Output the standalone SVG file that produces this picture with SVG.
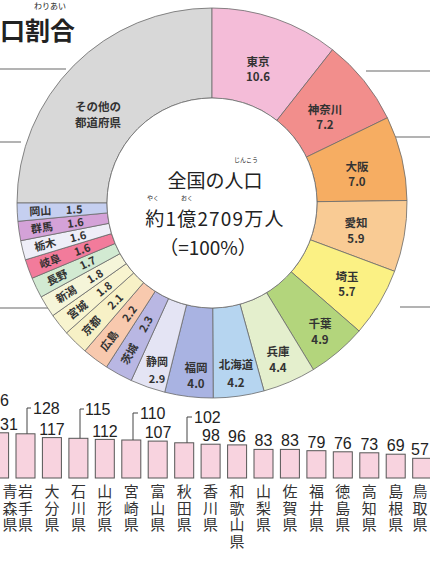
<svg xmlns="http://www.w3.org/2000/svg" width="430" height="564" viewBox="0 0 430 564">
<style>
.sl{stroke:#6a6a6a;stroke-width:0.8;stroke-linejoin:round}
.jp{font-family:"Noto Sans CJK JP","Noto Sans",sans-serif;fill:#222}
.lb{font-size:11.5px;text-anchor:middle;font-weight:bold;fill:#333}
.sm{font-size:11px;text-anchor:middle;font-weight:bold;fill:#333}
.ctr{font-size:19px;text-anchor:middle}
.rb{font-size:6px;text-anchor:middle}
.grid{stroke:#9a9a9a;stroke-width:1.5;fill:none}
.bar{fill:#f8d3df;stroke:#555;stroke-width:1}
.val{font-family:"Liberation Sans",Arial,sans-serif;font-size:16px;fill:#222}
.pf{font-family:"Noto Sans CJK JP","Noto Sans",sans-serif;font-size:15px;fill:#333;writing-mode:vertical-rl;text-orientation:upright;letter-spacing:1.5px}
.ld{stroke:#444;stroke-width:1;fill:none}
</style>
<rect width="430" height="564" fill="#ffffff"/>
<g id="title">
<text class="jp" x="0" y="40" font-size="25" font-weight="bold">口割合</text>
<text class="jp" x="50" y="9" font-size="8" text-anchor="middle">わりあい</text>
</g>
<g id="gridlines">
<line class="grid" x1="0" y1="69" x2="66" y2="69"/>
<line class="grid" x1="366" y1="71" x2="430" y2="71"/>
<line class="grid" x1="0" y1="142" x2="21" y2="142"/>
<line class="grid" x1="392" y1="137" x2="430" y2="137"/>
<line class="grid" x1="0" y1="308" x2="60" y2="308"/>
<line class="grid" x1="400" y1="307" x2="430" y2="307"/>
</g>
<g id="donut">
<g id="others"><path class="sl" fill="#d8d8d8" d="M17,203 A195,195 0 0 1 212,8 L212,98 A105,105 0 0 0 107,203 Z"/>
<text class="jp lb" x="98" y="111">その他の</text><text class="jp lb" x="98" y="127">都道府県</text></g>
<g id="tokyo"><path class="sl" fill="#f4bcd8" d="M212,8 A195,195 0 0 1 332.5,49.7 L276.9,120.4 A105,105 0 0 0 212,98 Z"/>
<text class="jp lb" x="258" y="66">東京</text><text class="jp lb" x="258" y="81">10.6</text></g>
<g id="kanagawa"><path class="sl" fill="#f28e8c" d="M332.5,49.7 A195,195 0 0 1 387.4,117.8 L306.4,157.1 A105,105 0 0 0 276.9,120.4 Z"/>
<text class="jp lb" x="325" y="114">神奈川</text><text class="jp lb" x="325" y="129">7.2</text></g>
<g id="osaka"><path class="sl" fill="#f6ad62" d="M387.4,117.8 A195,195 0 0 1 407,200.5 L317,201.7 A105,105 0 0 0 306.4,157.1 Z"/>
<text class="jp lb" x="357" y="171">大阪</text><text class="jp lb" x="357" y="186">7.0</text></g>
<g id="aichi"><path class="sl" fill="#f9cb94" d="M407,200.5 A195,195 0 0 1 394.6,271.3 L310.3,239.8 A105,105 0 0 0 317,201.7 Z"/>
<text class="jp lb" x="356" y="227">愛知</text><text class="jp lb" x="356" y="243">5.9</text></g>
<g id="saitama"><path class="sl" fill="#fbf184" d="M394.6,271.3 A195,195 0 0 1 359.1,331 L291.2,271.9 A105,105 0 0 0 310.3,239.8 Z"/>
<text class="jp lb" x="347" y="281">埼玉</text><text class="jp lb" x="347" y="296">5.7</text></g>
<g id="chiba"><path class="sl" fill="#b3d57c" d="M359.1,331 A195,195 0 0 1 313.4,369.6 L266.6,292.7 A105,105 0 0 0 291.2,271.9 Z"/>
<text class="jp lb" x="320" y="328">千葉</text><text class="jp lb" x="320" y="344">4.9</text></g>
<g id="hyogo"><path class="sl" fill="#e4efcd" d="M313.4,369.6 A195,195 0 0 1 264,390.9 L240,304.2 A105,105 0 0 0 266.6,292.7 Z"/>
<text class="jp lb" x="278" y="356">兵庫</text><text class="jp lb" x="278" y="372">4.4</text></g>
<g id="hokkaido"><path class="sl" fill="#b6d5f0" d="M264,390.9 A195,195 0 0 1 213.2,398 L212.7,308 A105,105 0 0 0 240,304.2 Z"/>
<text class="jp lb" x="236" y="369">北海道</text><text class="jp lb" x="236" y="387">4.2</text></g>
<g id="fukuoka"><path class="sl" fill="#a9b3e2" d="M213.2,398 A195,195 0 0 1 164.7,392.2 L186.5,304.9 A105,105 0 0 0 212.7,308 Z"/>
<text class="jp lb" x="196" y="372">福岡</text><text class="jp lb" x="196" y="388">4.0</text></g>
<g id="shizuoka"><path class="sl" fill="#e4e4f4" d="M164.7,392.2 A195,195 0 0 1 131.2,380.5 L168.5,298.6 A105,105 0 0 0 186.5,304.9 Z"/>
<text class="jp sm" x="157" y="366">静岡</text><text class="jp sm" x="157" y="383">2.9</text></g>
<g id="ibaraki"><path class="sl" fill="#b9b7e3" d="M131.2,380.5 A195,195 0 0 1 106.5,367 L155.2,291.3 A105,105 0 0 0 168.5,298.6 Z"/>
<g transform="translate(129.6,354) rotate(-61.4)"><text class="jp sm" y="4">茨城</text></g><g transform="translate(145.9,324.1) rotate(-61.4)"><text class="jp sm" y="4">2.3</text></g></g>
<g id="hiroshima"><path class="sl" fill="#f8c9ae" d="M106.5,367 A195,195 0 0 1 84.9,350.9 L143.6,282.6 A105,105 0 0 0 155.2,291.3 Z"/>
<g transform="translate(109.2,340.9) rotate(-53.3)"><text class="jp sm" y="4">広島</text></g><g transform="translate(129.5,313.6) rotate(-53.3)"><text class="jp sm" y="4">2.2</text></g></g>
<g id="kyoto"><path class="sl" fill="#f7f1c6" d="M84.9,350.9 A195,195 0 0 1 66.5,332.9 L133.7,272.9 A105,105 0 0 0 143.6,282.6 Z"/>
<g transform="translate(91.5,325.8) rotate(-45.5)"><text class="jp sm" y="4">京都</text></g><g transform="translate(115.3,301.5) rotate(-45.5)"><text class="jp sm" y="4">2.1</text></g></g>
<g id="miyagi"><path class="sl" fill="#f8f4cf" d="M66.5,332.9 A195,195 0 0 1 52.8,315.6 L126.3,263.6 A105,105 0 0 0 133.7,272.9 Z"/>
<g transform="translate(77.4,310.1) rotate(-38.5)"><text class="jp sm" y="4">宮城</text></g><g transform="translate(104,289) rotate(-38.5)"><text class="jp sm" y="4">1.8</text></g></g>
<g id="niigata"><path class="sl" fill="#f5f5d9" d="M52.8,315.6 A195,195 0 0 1 41.1,296.9 L120,253.6 A105,105 0 0 0 126.3,263.6 Z"/>
<g transform="translate(66.2,294.3) rotate(-32)"><text class="jp sm" y="4">新潟</text></g><g transform="translate(95,276.2) rotate(-32)"><text class="jp sm" y="4">1.8</text></g></g>
<g id="nagano"><path class="sl" fill="#d2ead2" d="M41.1,296.9 A195,195 0 0 1 32.1,278.2 L115.1,243.5 A105,105 0 0 0 120,253.6 Z"/>
<g transform="translate(57.1,277.7) rotate(-25.7)"><text class="jp sm" y="4">長野</text></g><g transform="translate(87.7,262.9) rotate(-25.7)"><text class="jp sm" y="4">1.7</text></g></g>
<g id="gifu"><path class="sl" fill="#f27b9b" d="M32.1,278.2 A195,195 0 0 1 25.4,259.8 L111.5,233.6 A105,105 0 0 0 115.1,243.5 Z"/>
<g transform="translate(50.2,261.3) rotate(-19.8)"><text class="jp sm" y="4">岐阜</text></g><g transform="translate(82.2,249.7) rotate(-19.8)"><text class="jp sm" y="4">1.6</text></g></g>
<g id="tochigi"><path class="sl" fill="#eeeef8" d="M25.4,259.8 A195,195 0 0 1 20.7,240.7 L109,223.3 A105,105 0 0 0 111.5,233.6 Z"/>
<g transform="translate(45.1,244.7) rotate(-14)"><text class="jp sm" y="4">栃木</text></g><g transform="translate(78.1,236.5) rotate(-14)"><text class="jp sm" y="4">1.6</text></g></g>
<g id="gunma"><path class="sl" fill="#d4a2d8" d="M20.7,240.7 A195,195 0 0 1 17.9,221.3 L107.5,212.9 A105,105 0 0 0 109,223.3 Z"/>
<g transform="translate(41.8,227.8) rotate(-8.3)"><text class="jp sm" y="4">群馬</text></g><g transform="translate(75.4,222.9) rotate(-8.3)"><text class="jp sm" y="4">1.6</text></g></g>
<g id="okayama"><path class="sl" fill="#c5cff0" d="M17.9,221.3 A195,195 0 0 1 17,203 L107,203 A105,105 0 0 0 107.5,212.9 Z"/>
<g transform="translate(40.2,211.1) rotate(-2.7)"><text class="jp sm" y="4">岡山</text></g><g transform="translate(74.2,209.5) rotate(-2.7)"><text class="jp sm" y="4">1.5</text></g></g>
<g id="center">
<circle cx="212" cy="203" r="105" fill="#ffffff" class="sl"/>
<text class="jp ctr" x="215" y="188">全国の人口</text>
<text class="jp rb" x="246" y="162">じんこう</text>
<text class="jp ctr" x="215" y="226" letter-spacing="1.2">約1億2709万人</text>
<text class="jp rb" x="153" y="200">やく</text>
<text class="jp rb" x="187" y="200">おく</text>
<text class="jp ctr" x="208" y="255">（=100%）</text>
</g>
</g>
<g id="bars">
<rect class="bar" x="-10.4" y="432.8" width="19" height="45.2"/>
<rect class="bar" x="16" y="433.8" width="19" height="44.2"/>
<rect class="bar" x="42.4" y="437.6" width="19" height="40.4"/>
<rect class="bar" x="68.9" y="438.3" width="19" height="39.7"/>
<rect class="bar" x="95.3" y="439.4" width="19" height="38.6"/>
<rect class="bar" x="121.8" y="440" width="19" height="38"/>
<rect class="bar" x="148.2" y="441.1" width="19" height="36.9"/>
<rect class="bar" x="174.7" y="442.8" width="19" height="35.2"/>
<rect class="bar" x="201.1" y="444.2" width="19" height="33.8"/>
<rect class="bar" x="227.6" y="444.9" width="19" height="33.1"/>
<rect class="bar" x="254" y="449.4" width="19" height="28.6"/>
<rect class="bar" x="280.4" y="449.4" width="19" height="28.6"/>
<rect class="bar" x="306.9" y="450.7" width="19" height="27.3"/>
<rect class="bar" x="333.3" y="451.8" width="19" height="26.2"/>
<rect class="bar" x="359.8" y="452.8" width="19" height="25.2"/>
<rect class="bar" x="386.2" y="454.2" width="19" height="23.8"/>
<rect class="bar" x="412.7" y="458.3" width="19" height="19.7"/>
</g>
<g id="leaders">
<polyline class="ld" points="27,433.8 27,408 31,408"/>
<polyline class="ld" points="80,438.3 80,409 84,409"/>
<polyline class="ld" points="133,440 133,413 138,413"/>
<polyline class="ld" points="187,442.8 187,417 192,417"/>
</g>
<g id="values">
<text class="val" x="0" y="406">6</text>
<text class="val" x="0" y="430">31</text>
<text class="val" x="33" y="414">128</text>
<text class="val" x="52" y="435" text-anchor="middle">117</text>
<text class="val" x="85" y="415">115</text>
<text class="val" x="105" y="437" text-anchor="middle">112</text>
<text class="val" x="140" y="419">110</text>
<text class="val" x="158" y="438" text-anchor="middle">107</text>
<text class="val" x="194" y="423">102</text>
<text class="val" x="211" y="441" text-anchor="middle">98</text>
<text class="val" x="237" y="442" text-anchor="middle">96</text>
<text class="val" x="263.5" y="446" text-anchor="middle">83</text>
<text class="val" x="290" y="446" text-anchor="middle">83</text>
<text class="val" x="316.4" y="448" text-anchor="middle">79</text>
<text class="val" x="342.8" y="449" text-anchor="middle">76</text>
<text class="val" x="369.3" y="450" text-anchor="middle">73</text>
<text class="val" x="395.7" y="451" text-anchor="middle">69</text>
<text class="val" x="420" y="455" text-anchor="middle">57</text>
</g>
<g id="prefs">
<text class="pf" x="10" y="484">青森県</text>
<text class="pf" x="25.5" y="484">岩手県</text>
<text class="pf" x="51.9" y="484">大分県</text>
<text class="pf" x="78.4" y="484">石川県</text>
<text class="pf" x="104.8" y="484">山形県</text>
<text class="pf" x="131.3" y="484">宮崎県</text>
<text class="pf" x="157.7" y="484">富山県</text>
<text class="pf" x="184.2" y="484">秋田県</text>
<text class="pf" x="210.6" y="484">香川県</text>
<text class="pf" x="237.1" y="484">和歌山県</text>
<text class="pf" x="263.5" y="484">山梨県</text>
<text class="pf" x="289.9" y="484">佐賀県</text>
<text class="pf" x="316.4" y="484">福井県</text>
<text class="pf" x="342.8" y="484">徳島県</text>
<text class="pf" x="369.3" y="484">高知県</text>
<text class="pf" x="395.7" y="484">島根県</text>
<text class="pf" x="420" y="484">鳥取県</text>
</g>
</svg>
